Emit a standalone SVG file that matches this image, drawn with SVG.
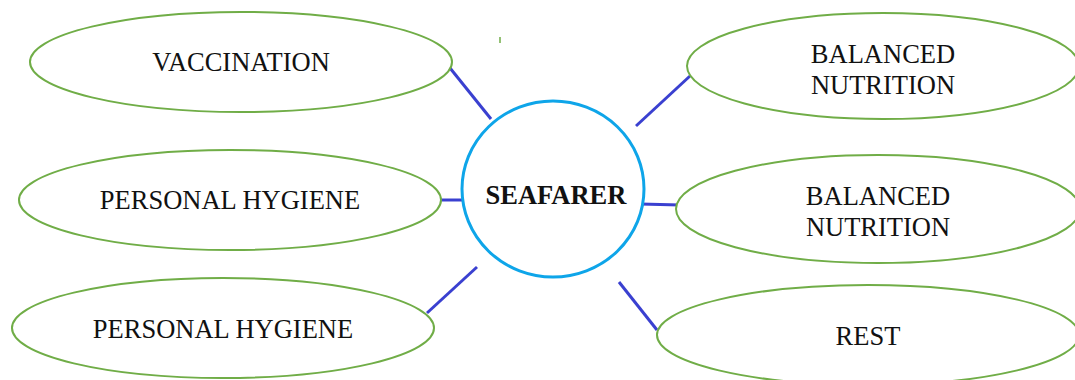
<svg xmlns="http://www.w3.org/2000/svg" width="1075" height="380" viewBox="0 0 1075 380">
<style>
.n{fill:#fff;stroke:#70ad47;stroke-width:2}
.t{font-family:"Liberation Serif",serif;font-size:26.5px;fill:#111;text-anchor:middle}
.c{stroke:#3a40d0;stroke-width:3;fill:none}
</style>
<rect width="1075" height="380" fill="#fff"/>
<line x1="500" y1="37" x2="500" y2="43" stroke="#70ad47" stroke-width="1.5"/>
<g id="connectors">
<line class="c" x1="450" y1="68" x2="491" y2="119"/>
<line class="c" x1="440" y1="200" x2="463" y2="200"/>
<line class="c" x1="427" y1="313" x2="477" y2="267"/>
<line class="c" x1="636" y1="126" x2="690" y2="76"/>
<line class="c" x1="640" y1="204" x2="680" y2="205"/>
<line class="c" x1="619" y1="282" x2="657" y2="330"/>
</g>
<g id="vaccination"><ellipse class="n" cx="241" cy="62" rx="211" ry="50"/><text class="t" x="241" y="71">VACCINATION</text></g>
<g id="hygiene1"><ellipse class="n" cx="230" cy="200" rx="211" ry="50"/><text class="t" x="230" y="209">PERSONAL HYGIENE</text></g>
<g id="hygiene2"><ellipse class="n" cx="223" cy="328" rx="211" ry="50"/><text class="t" x="223" y="338">PERSONAL HYGIENE</text></g>
<g id="nutrition1"><ellipse class="n" cx="883" cy="66" rx="196" ry="53"/><text class="t" x="883" y="63">BALANCED</text><text class="t" x="883" y="94">NUTRITION</text></g>
<g id="nutrition2"><ellipse class="n" cx="878" cy="209" rx="202" ry="54"/><text class="t" x="878" y="205">BALANCED</text><text class="t" x="878" y="236">NUTRITION</text></g>
<g id="rest"><ellipse class="n" cx="868" cy="335" rx="211" ry="50"/><text class="t" x="868" y="345">REST</text></g>
<g id="seafarer"><ellipse cx="553" cy="189" rx="91" ry="88" fill="#fff" stroke="#0ea5e9" stroke-width="3"/><text class="t" x="556" y="204" font-weight="bold">SEAFARER</text></g>
</svg>
